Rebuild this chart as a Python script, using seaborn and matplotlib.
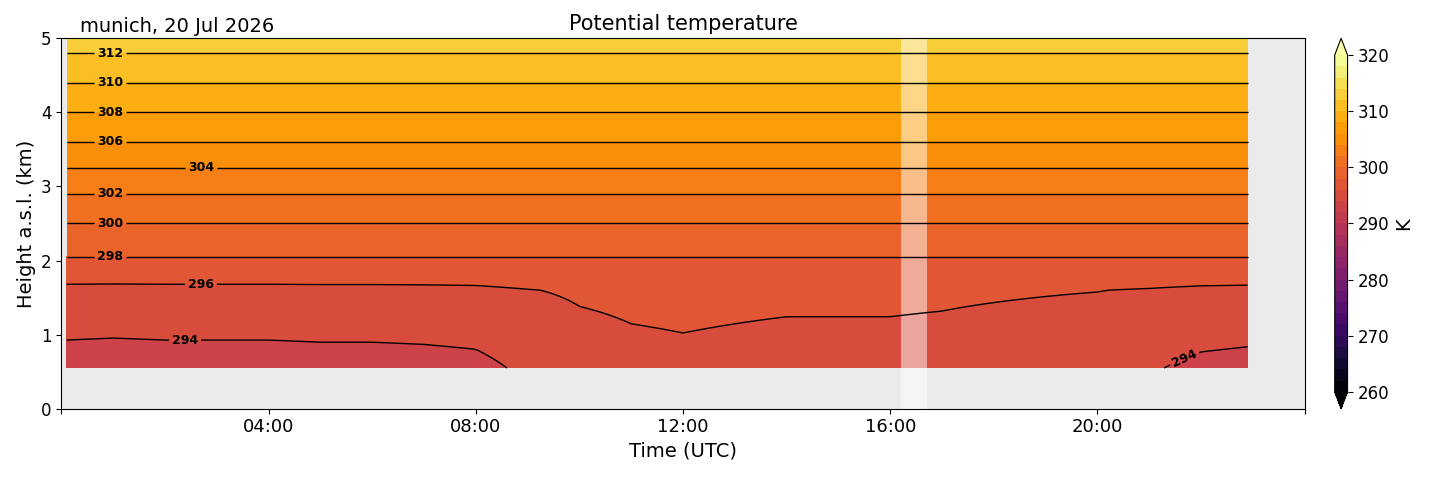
import numpy as np
import matplotlib.pyplot as plt
import seaborn as sns

Hours = [0.1, 1, 2, 3, 4, 5, 6, 7, 8, 9, 10, 11, 12, 13, 14, 15, 16, 17, 18, 19, 20, 21, 22, 22.9]
Low_Anomaly = [-1.6, -1.7, -1.6, -1.6, -1.6, -1.5, -1.5, -1.4, -1.2, -0.2, 0.6, 0.9, 1.0, 0.9, 0.8, 0.8, 0.8, 0.7, 0.5, 0.3, 0.1, -0.4, -1.1, -1.3]
Heights = [0.55, 1.0, 1.6, 2.05, 2.5, 2.9, 3.25, 3.6, 4.0, 4.4, 4.8, 5.0]
Theta_Profile = [294.6, 295.3, 296.0, 298.0, 300.0, 302.0, 304.0, 306.0, 308.0, 310.0, 312.0, 313.0]
Levels = np.arange(260, 322, 2)

sns.set_style("ticks")
plt.rcParams.update({"text.color": "black", "axes.labelcolor": "black",
                     "xtick.color": "black", "ytick.color": "black", "axes.edgecolor": "black"})

t = np.linspace(Hours[0], Hours[-1], 300)
z = np.linspace(Heights[0], Heights[-1], 200)
profile = np.interp(z, Heights, Theta_Profile)
anomaly = np.interp(t, Hours, Low_Anomaly)
decay = np.clip((2.0 - z) / 1.45, 0, 1)  # anomaly fades out above 2 km
theta = profile[:, None] + anomaly[None, :] * decay[:, None]

fig = plt.figure(figsize = (14.29, 4.78))
ax = fig.add_axes([0.043, 0.145, 0.87, 0.775])
cax = fig.add_axes([0.934, 0.145, 0.009, 0.775])
ax.set_facecolor("#ebebeb")
cf = ax.contourf(t, z, theta, levels = Levels, cmap = "inferno", vmin = 260, vmax = 320, extend = "both")
cs = ax.contour(t, z, theta, levels = Levels, colors = "black", linewidths = 1)
ax.clabel(cs, levels = np.arange(292, 314, 2), fmt = "%d", fontsize = 9)
for txt in cs.labelTexts:
    txt.set_fontweight("bold")
ax.axvspan(16.2, 16.7, color = "white", alpha = 0.5, lw = 0)

ax.set_xlim(0, 24)
ax.set_ylim(0, 5)
ax.set_xticks(range(0, 25, 4))
ax.set_xticklabels(["", "04:00", "08:00", "12:00", "16:00", "20:00", ""], fontsize = 13)
ax.tick_params(axis = "y", labelsize = 12)
ax.set_xlabel("Time (UTC)", fontsize = 14)
ax.set_ylabel("Height a.s.l. (km)", fontsize = 14)
ax.set_title("Potential temperature", fontsize = 15)
ax.text(0.015, 1.005, "munich, 20 Jul 2026", transform = ax.transAxes, fontsize = 14, va = "bottom")

cb = fig.colorbar(cf, cax = cax)
cb.set_ticks(range(260, 321, 10))
cb.ax.tick_params(labelsize = 12)
cb.set_label("K", fontsize = 14)

plt.savefig("out.png", dpi = 100)
